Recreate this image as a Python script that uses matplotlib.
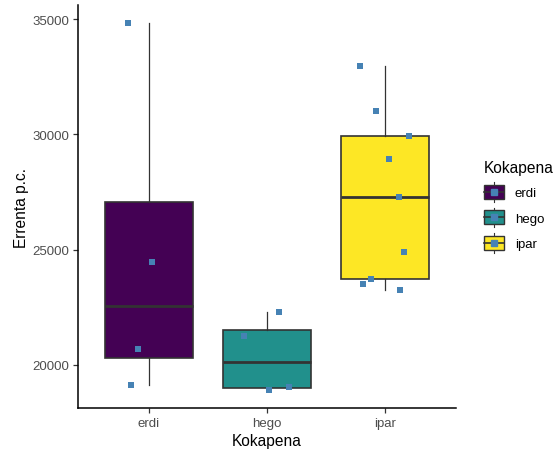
import numpy as np
import matplotlib.pyplot as plt
from matplotlib.patches import Rectangle
from matplotlib.lines import Line2D
from matplotlib.legend_handler import HandlerBase

plt.rcParams['font.family'] = ['Liberation Sans', 'DejaVu Sans']

# --- data ---
groups = ['erdi', 'hego', 'ipar']
erdi = [34830, 24450, 20670, 19100]
hego = [22270, 21230, 18910, 19010]
ipar = [32990, 31030, 29940, 28940, 27290, 24900, 23740, 23510, 23230]
# horizontal jitter of each point (in category units)
erdi_jit = [-0.18, 0.03, -0.09, -0.15]
hego_jit = [0.10, -0.19, 0.02, 0.19]
ipar_jit = [-0.21, -0.08, 0.20, 0.03, 0.12, 0.16, -0.12, -0.19, 0.13]

fills = ['#440154', '#21908C', '#FDE725']
point_col = '#4682B4'
edge = '#333333'

values = [erdi, hego, ipar]
jitters = [erdi_jit, hego_jit, ipar_jit]
pos = np.arange(1, len(groups) + 1)

fig = plt.figure(figsize=(5.54, 4.52), dpi=100)
ax = fig.add_axes([0.1408, 0.0951, 0.682, 0.8916])

bp = ax.boxplot(values, positions=pos, widths=0.75, patch_artist=True,
                showcaps=False, showfliers=False, whis=1.5,
                boxprops=dict(edgecolor=edge, linewidth=1.2),
                medianprops=dict(color=edge, linewidth=2.0),
                whiskerprops=dict(color=edge, linewidth=0.9))
for patch, c in zip(bp['boxes'], fills):
    patch.set_facecolor(c)

for p, v, j in zip(pos, values, jitters):
    ax.scatter(p + np.array(j), v, marker='s', s=14, color=point_col,
               linewidths=0, zorder=5)

allv = np.concatenate(values)
rng = allv.max() - allv.min()
ax.set_ylim(allv.min() - 0.05 * rng, allv.max() + 0.05 * rng)
ax.set_xlim(0.4, 3.6)
ax.set_yticks([20000, 25000, 30000, 35000])
ax.set_xticks(pos)
ax.set_xticklabels(groups)

for s in ['top', 'right']:
    ax.spines[s].set_visible(False)
for s in ['left', 'bottom']:
    ax.spines[s].set_linewidth(1.1)
ax.tick_params(colors=edge, labelcolor='#4D4D4D', labelsize=9.5, length=3.5,
               width=0.9, pad=3)
ax.set_xlabel('Kokapena', fontsize=11.2, color='black', labelpad=3)
ax.set_ylabel('Errenta p.c.', fontsize=11.2, color='black', labelpad=2)


class BoxKey(HandlerBase):
    # small boxplot glyph like ggplot's legend key
    def create_artists(self, legend, orig_handle, xdescent, ydescent,
                       width, height, fontsize, trans):
        x0 = -xdescent
        cx, cy = x0 + width / 2, -ydescent + height / 2
        bh = 10.0
        wl = 2.0
        whisk1 = Line2D([cx, cx], [cy - bh / 2 - wl, cy - bh / 2], color=edge, lw=0.8, transform=trans)
        whisk2 = Line2D([cx, cx], [cy + bh / 2, cy + bh / 2 + wl], color=edge, lw=0.8, transform=trans)
        box = Rectangle((x0, cy - bh / 2), width, bh, facecolor=orig_handle.get_facecolor(),
                        edgecolor=edge, lw=1.0, transform=trans)
        med = Line2D([x0, x0 + width], [cy, cy], color=edge, lw=1.2, transform=trans)
        pt = Line2D([cx], [cy], marker='s', markersize=4.5, color=point_col, lw=0,
                    transform=trans)
        return [whisk1, whisk2, box, med, pt]


handles = [Rectangle((0, 0), 1, 1, facecolor=c) for c in fills]
leg = fig.legend(handles, groups, title='Kokapena', loc='center left',
                 bbox_to_anchor=(0.845, 0.542), frameon=False,
                 handler_map={Rectangle: BoxKey()}, fontsize=9.5,
                 title_fontsize=11.2, handlelength=1.55, handleheight=1.7,
                 labelspacing=0.58, handletextpad=0.8, borderpad=0.7)
leg._legend_box.align = 'left'

fig.savefig('out.png', dpi=100)
